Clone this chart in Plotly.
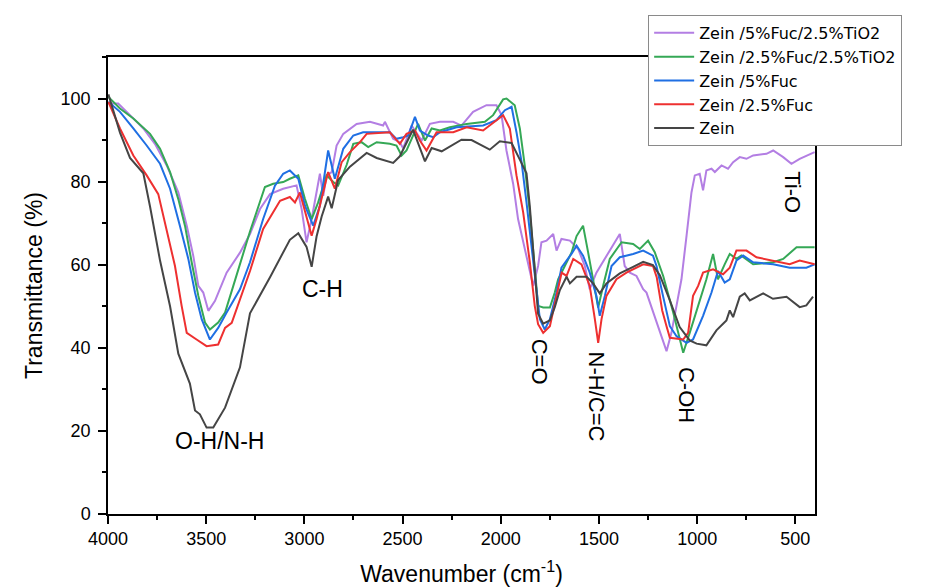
import plotly.graph_objects as go

# ---------------- data ----------------
zein_wn = [3998, 3939, 3888, 3820, 3786, 3735, 3684, 3642, 3583, 3557, 3532, 3498, 3464, 3404, 3328, 3277,
           3175, 3074, 3031, 2989, 2963, 2938, 2912, 2879, 2861, 2828, 2768, 2683, 2632, 2548, 2514, 2447,
           2386, 2352, 2301, 2200, 2149, 2056, 2005, 1945, 1903, 1869, 1852, 1835, 1818, 1810, 1784, 1750,
           1725, 1699, 1665, 1648, 1614, 1563, 1530, 1496, 1462, 1394, 1326, 1275, 1225, 1190, 1139, 1089,
           1038, 1003, 953, 902, 868, 851, 834, 817, 783, 758, 732, 664, 614, 545, 478, 444, 410]
zein_t = [101.0, 91.8, 85.7, 82.0, 74.0, 61.0, 50.0, 38.6, 31.4, 24.9, 24.0, 20.8, 20.8, 25.6, 35.3, 48.3,
          57.0, 66.0, 67.6, 64.3, 59.5, 66.8, 71.6, 76.4, 73.6, 80.4, 83.6, 86.9, 85.7, 84.5, 86.1, 92.5,
          84.9, 88.1, 87.3, 90.1, 90.0, 87.7, 89.7, 89.3, 85.3, 82.0, 74.0, 64.3, 54.7, 48.2, 45.8, 46.6,
          49.8, 53.9, 57.1, 55.5, 57.1, 57.1, 55.5, 53.1, 55.5, 57.9, 59.5, 60.7, 59.9, 57.5, 51.4, 45.0,
          41.8, 41.0, 40.6, 44.2, 45.8, 46.6, 49.0, 47.4, 52.3, 53.1, 51.4, 53.1, 51.8, 52.3, 49.8, 50.2, 52.3]

f25_wn = [3998, 3939, 3871, 3803, 3744, 3701, 3659, 3625, 3599, 3549, 3498, 3439, 3404, 3370, 3328, 3277,
          3210, 3124, 3074, 3048, 3023, 2989, 2963, 2938, 2912, 2879, 2845, 2810, 2768, 2717, 2683, 2565,
          2514, 2480, 2437, 2412, 2378, 2327, 2242, 2174, 2090, 2013, 1988, 1954, 1920, 1886, 1852, 1827,
          1810, 1784, 1750, 1716, 1690, 1665, 1631, 1589, 1547, 1521, 1504, 1487, 1462, 1411, 1360, 1275,
          1225, 1206, 1178, 1156, 1139, 1071, 1046, 1021, 995, 970, 919, 868, 834, 800, 749, 698, 613,
          529, 478, 402]
f25_t = [99.2, 92.8, 86.3, 81.5, 77.0, 68.6, 59.7, 50.1, 43.6, 42.0, 40.4, 40.8, 44.8, 46.0, 51.7, 58.5,
         68.6, 75.4, 76.3, 75.0, 77.4, 71.8, 67.0, 71.0, 75.8, 82.3, 78.3, 84.7, 87.1, 89.5, 91.5, 91.9,
         89.1, 91.5, 92.3, 89.9, 87.5, 91.9, 91.9, 93.1, 92.3, 95.2, 96.0, 92.8, 81.5, 72.6, 60.6, 50.1,
         45.7, 43.6, 45.2, 52.5, 58.1, 57.3, 61.4, 60.1, 54.9, 46.9, 41.2, 46.9, 52.5, 56.5, 58.1, 60.1,
         59.7, 57.0, 49.0, 45.2, 42.4, 42.0, 43.6, 52.5, 54.9, 58.1, 58.9, 57.7, 59.3, 63.4, 63.4, 61.8, 61.0,
         60.1, 61.0, 60.1]

f5_wn = [3998, 3939, 3871, 3803, 3735, 3684, 3634, 3591, 3557, 3523, 3481, 3439, 3396, 3328, 3277, 3210,
         3150, 3108, 3074, 3031, 2997, 2955, 2921, 2887, 2879, 2845, 2802, 2751, 2701, 2565, 2531, 2497,
         2471, 2437, 2412, 2370, 2344, 2310, 2225, 2090, 2022, 1979, 1945, 1920, 1894, 1869, 1843, 1818,
         1801, 1776, 1750, 1716, 1691, 1665, 1640, 1614, 1581, 1547, 1513, 1496, 1470, 1436, 1394, 1326,
         1275, 1225, 1207, 1174, 1139, 1105, 1054, 1021, 970, 927, 894, 860, 834, 800, 766, 715, 613, 529,
         444, 402]
f5_t = [99.2, 96.8, 92.8, 88.7, 84.3, 78.3, 69.4, 61.4, 53.3, 46.9, 42.0, 44.8, 48.5, 54.1, 60.6, 71.0,
        79.0, 81.9, 82.7, 80.7, 74.2, 69.4, 74.2, 84.7, 87.5, 80.7, 87.9, 91.1, 91.9, 91.9, 90.3, 90.7,
        91.1, 95.6, 92.3, 91.1, 90.7, 91.9, 93.1, 93.5, 94.8, 97.2, 98.0, 91.9, 84.7, 75.0, 64.6, 54.9,
        46.9, 44.4, 46.9, 53.3, 59.3, 61.0, 62.6, 64.6, 62.2, 58.1, 52.5, 47.7, 52.5, 59.7, 61.8, 62.6,
        63.4, 62.2, 59.7, 52.5, 45.2, 42.8, 41.2, 42.0, 47.7, 53.3, 58.5, 55.7, 56.5, 61.0, 62.2, 60.6, 60.1,
        59.3, 59.3, 60.1]

f25ti_wn = [3998, 3939, 3871, 3786, 3735, 3684, 3642, 3608, 3574, 3540, 3506, 3481, 3439, 3404, 3362, 3311,
            3277, 3201, 3159, 3108, 3074, 3031, 2997, 2963, 2930, 2887, 2853, 2828, 2785, 2751, 2709, 2675,
            2632, 2565, 2531, 2505, 2480, 2454, 2421, 2386, 2352, 2310, 2259, 2174, 2081, 2039, 1988, 1971,
            1929, 1903, 1878, 1852, 1835, 1810, 1784, 1750, 1725, 1708, 1674, 1640, 1614, 1581, 1555, 1530,
            1504, 1479, 1445, 1385, 1326, 1292, 1250, 1216, 1173, 1122, 1096, 1071, 1038, 995, 953, 919, 894,
            860, 834, 800, 775, 715, 613, 562, 494, 402]
f25ti_t = [100.4, 97.6, 95.2, 91.5, 87.9, 82.3, 75.8, 69.4, 60.6, 52.5, 46.1, 44.4, 46.1, 48.5, 54.9, 62.9,
           68.0, 78.7, 79.5, 79.9, 80.7, 81.5, 75.8, 71.0, 75.0, 81.5, 79.9, 79.1, 84.0, 89.1, 89.5, 88.3,
           89.5, 89.1, 88.7, 86.3, 87.5, 90.3, 93.9, 89.9, 92.8, 92.3, 93.1, 93.9, 94.4, 96.0, 99.8, 100.0,
           98.4, 92.8, 83.9, 72.6, 62.9, 50.1, 49.7, 49.7, 53.3, 56.5, 59.7, 62.9, 66.9, 69.4, 62.9, 56.5,
           49.7, 54.9, 61.4, 65.4, 65.0, 63.8, 65.8, 63.0, 57.3, 48.5, 43.6, 38.8, 43.6, 50.1, 56.5, 62.6, 56.5,
           60.1, 62.6, 61.4, 62.2, 60.1, 60.6, 61.4, 64.2, 64.2]

f5ti_wn = [3998, 3948, 3888, 3820, 3761, 3701, 3642, 3599, 3566, 3540, 3515, 3489, 3455, 3430, 3396, 3328,
           3277, 3226, 3175, 3108, 3040, 3014, 2989, 2963, 2938, 2921, 2904, 2887, 2861, 2836, 2802, 2734,
           2666, 2599, 2590, 2548, 2514, 2497, 2454, 2403, 2361, 2310, 2242, 2200, 2141, 2073, 2022, 1996,
           1971, 1937, 1912, 1878, 1852, 1835, 1810, 1793, 1767, 1750, 1733, 1716, 1691, 1648, 1606, 1572,
           1547, 1513, 1462, 1420, 1394, 1369, 1343, 1309, 1275, 1258, 1224, 1190, 1156, 1131, 1105, 1080,
           1054, 1029, 1012, 987, 970, 953, 927, 910, 876, 843, 817, 783, 749, 715, 647, 613, 562, 520, 478, 402]
f5ti_t = [98.8, 98.8, 96.0, 92.8, 89.1, 83.9, 77.4, 69.4, 62.2, 54.9, 53.3, 48.9, 51.3, 54.1, 58.1, 62.9,
          67.4, 73.4, 77.0, 78.3, 79.1, 73.4, 65.4, 71.0, 77.4, 81.9, 76.6, 81.5, 82.3, 88.7, 91.5, 93.9,
          94.4, 93.5, 94.4, 90.3, 89.5, 88.0, 93.5, 89.9, 93.9, 94.4, 94.4, 93.5, 96.8, 98.4, 98.4, 96.0,
          87.5, 79.5, 71.0, 63.8, 58.1, 54.9, 59.7, 65.4, 65.8, 66.6, 67.4, 63.4, 66.2, 65.8, 63.8, 59.7,
          54.1, 58.1, 62.2, 65.4, 67.4, 59.7, 58.1, 57.3, 54.1, 53.3, 48.5, 43.6, 39.2, 43.6, 50.1, 56.5,
          67.0, 77.4, 81.5, 81.9, 77.9, 82.7, 83.1, 82.3, 83.9, 83.1, 84.7, 85.9, 85.5, 86.3, 86.7, 87.5, 85.9,
          84.3, 85.5, 87.1]

series_names = ["Zein /5%Fuc/2.5%TiO2", "Zein /2.5%Fuc/2.5%TiO2", "Zein /5%Fuc", "Zein /2.5%Fuc", "Zein"]
series_x = [f5ti_wn, f25ti_wn, f5_wn, f25_wn, zein_wn]
series_y = [f5ti_t, f25ti_t, f5_t, f25_t, zein_t]
series_colors = ["#B37EE3", "#35A856", "#1F6FE3", "#EE3030", "#454545"]

band_labels = ["O-H/N-H", "C-H", "C=O", "N-H/C=C", "C-OH", "Ti-O"]
band_x = [3430, 2906, 1801, 1511, 1058, 513]
band_y = [17.6, 54.1, 36.7, 28.3, 28.7, 77.5]
band_angle = [0, 0, 90, 90, 90, 90]

x_ticks = [4000, 3500, 3000, 2500, 2000, 1500, 1000, 500]
y_ticks = [0, 20, 40, 60, 80, 100]

# ---------------- figure ----------------
# the page body has an 8 px margin, so the figure is 8 px smaller than the window
FONT = "Liberation Sans, Arial, sans-serif"
LEG_FONT = "DejaVu Sans, Liberation Sans, sans-serif"
fig = go.Figure()
for name, xs, ys, col in zip(series_names, series_x, series_y, series_colors):
    fig.add_trace(go.Scatter(x=xs, y=ys, mode="lines", name=name,
                             line=dict(color=col, width=2)))

for lab, bx, by, ang in zip(band_labels, band_x, band_y, band_angle):
    fig.add_annotation(x=bx, y=by, text=lab, showarrow=False, textangle=ang,
                       font=dict(family=FONT, size=22 if ang else 23, color="black"))

fig.update_layout(
    width=929, height=579,
    margin=dict(l=100, r=122, t=49, b=73, autoexpand=False),
    paper_bgcolor="white", plot_bgcolor="white",
    font=dict(family=FONT, color="black"),
    showlegend=True,
    legend=dict(x=0.764, y=1.092, xanchor="left", yanchor="top",
                bgcolor="white", bordercolor="#8a8a8a", borderwidth=1,
                font=dict(family=LEG_FONT, size=16, color="black"),
                tracegroupgap=0, itemwidth=40),
    xaxis=dict(range=[4000, 400], tickvals=x_ticks, ticks="outside", ticklen=8, tickwidth=1.5,
               tickcolor="black", showline=True, linecolor="black", linewidth=1.5, mirror=True,
               showgrid=False, zeroline=False,
               tickfont=dict(family=FONT, size=18),
               minor=dict(dtick=250, ticks="outside", ticklen=4, tickwidth=1.5, tickcolor="black", showgrid=False),
               title=dict(text="Wavenumber (cm<sup>-1</sup>)", font=dict(family=FONT, size=23), standoff=19)),
    yaxis=dict(range=[0, 110], tickvals=y_ticks, ticks="outside", ticklen=8, tickwidth=1.5,
               tickcolor="black", showline=True, linecolor="black", linewidth=1.5, mirror=True,
               showgrid=False, zeroline=False, ticklabelstandoff=4,
               tickfont=dict(family=FONT, size=18),
               minor=dict(dtick=10, ticks="outside", ticklen=4, tickwidth=1.5, tickcolor="black", showgrid=False),
               title=dict(text="Transmittance (%)", font=dict(family=FONT, size=23), standoff=12)),
)

fig.write_html("out.html")
